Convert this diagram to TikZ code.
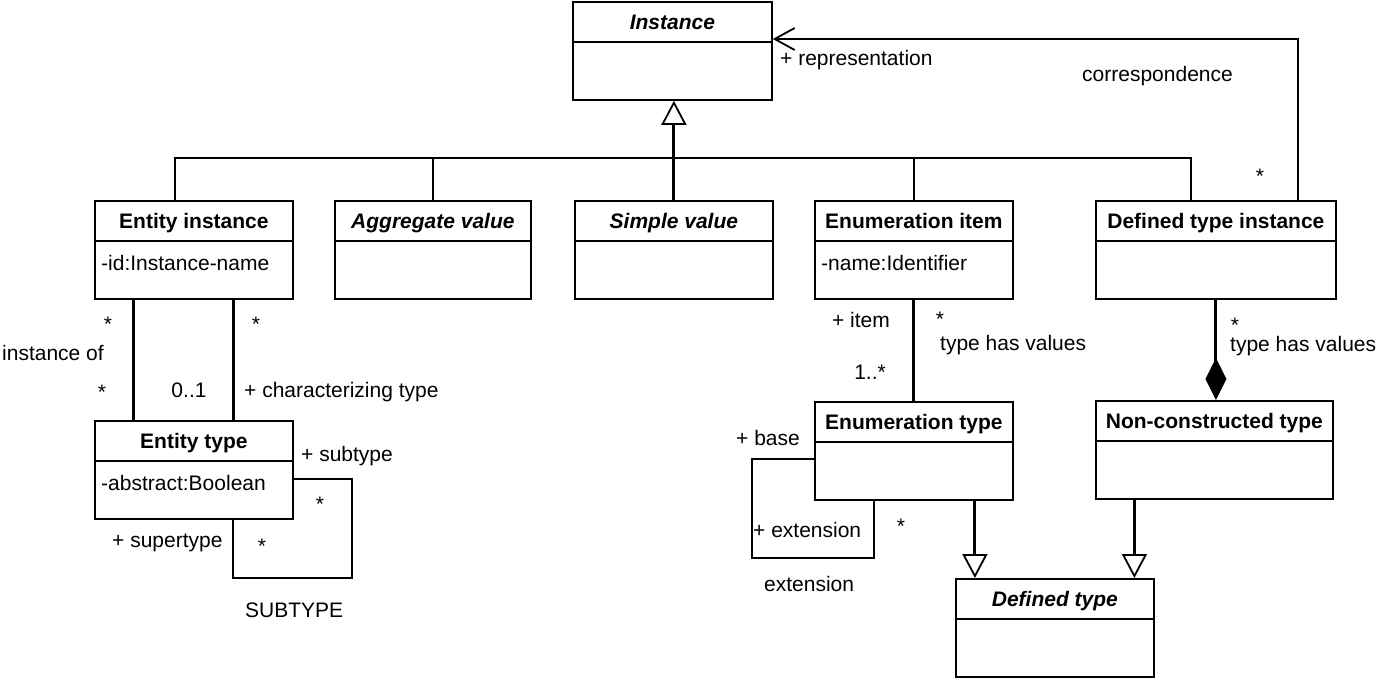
\documentclass[tikz,border=0pt]{standalone}
\usepackage{fontspec}
\setmainfont{Liberation Sans}
\usetikzlibrary{arrows.meta}
\tikzset{
 classbox/.style={draw, line width=1.8pt, inner sep=0pt, minimum height=98pt},
 divline/.style={line width=2.4pt},
 ttl/.style={font=\fontsize{21}{24}\selectfont\bfseries, inner sep=0pt, text height=15pt, text depth=0pt},
 ttli/.style={font=\fontsize{21}{24}\selectfont\bfseries\itshape, inner sep=0pt, text height=15pt, text depth=0pt},
 attrtxt/.style={font=\fontsize{21}{24}\selectfont, inner sep=0pt, anchor=west, text height=15pt, text depth=0pt},
 lbl/.style={font=\fontsize{21}{24}\selectfont, inner sep=0pt, text height=15pt, text depth=0pt},
 thinline/.style={line width=1.8pt},
 thickline/.style={line width=3pt},
 gentip/.style={-{Triangle[length=24pt,width=25pt,fill=white,line width=1.8pt]}},
 comptip/.style={-{Diamond[length=42pt,width=21pt]}},
 navtip/.style={-{Straight Barb[length=20pt,width=22pt,line width=1.8pt]}},
}
\newcommand{\umlclass}[7]{%
 \node[classbox, minimum width=#4pt, anchor=north west] (#1) at (#2,#3) {};
 \draw[divline] ([yshift=-41pt]#1.north west) -- ([yshift=-41pt]#1.north east);
 \node[#7] (#1-t) at ([yshift=-20.5pt]#1.north) {#5};
 \node[attrtxt] (#1-a) at ([xshift=7pt,yshift=-63pt]#1.north west) {#6};
}
\begin{document}
\begin{tikzpicture}[x=1pt,y=-1pt]
\useasboundingbox (0,0) rectangle (1380,681);
% classes
\umlclass{inst}{572}{1}{199}{Instance}{}{ttli}
\umlclass{ei}{94}{200}{198}{Entity instance}{-id:Instance-name}{ttl}
\umlclass{av}{334}{200}{196}{Aggregate value}{}{ttli}
\umlclass{sv}{574}{200}{198}{Simple value}{}{ttli}
\umlclass{enit}{814}{200}{198}{Enumeration item}{-name:Identifier}{ttl}
\umlclass{dti}{1095}{200}{240}{Defined type instance}{}{ttl}
\umlclass{et}{94}{420}{198}{Entity type}{-abstract:Boolean}{ttl}
\umlclass{ent}{814}{401}{198}{Enumeration type}{}{ttl}
\umlclass{nct}{1095}{400}{237}{Non-constructed type}{}{ttl}
\umlclass{dt}{955}{578}{198}{Defined type}{}{ttli}
% generalization to Instance
\coordinate (bus) at (672,158);
\draw[thinline] ([xshift=-19pt]ei.north) |- (bus);
\draw[thinline] (av.north) |- (bus);
\draw[thinline] (enit.north) |- (bus);
\draw[thinline] ([xshift=-25pt]dti.north) |- (bus);
\draw[thickline, gentip] (sv.north) -- (sv.north |- inst.south);
% correspondence
\draw[thinline, navtip] ([xshift=82pt]dti.north) |- ([yshift=-38pt]inst.north east);
% entity associations
\draw[thickline] ([xshift=-60pt]ei.south) -- ([xshift=-60pt]et.north);
\draw[thickline] ([xshift=40pt]ei.south) -- ([xshift=40pt]et.north);
\coordinate (etloop) at (352,578);
\draw[thinline] ([yshift=-59pt]et.north east) -| (etloop) -| ([xshift=39pt]et.south);
% enumeration
\draw[thickline] (enit.south) -- (ent.north);
\coordinate (enloop) at (752,558);
\draw[thinline] ([yshift=-58pt]ent.north west) -| (enloop) -| ([xshift=-40pt]ent.south);
\draw[thickline, gentip] ([xshift=61pt]ent.south) -- ([xshift=61pt]ent.south |- dt.north);
\draw[thickline, gentip] ([xshift=-80pt]nct.south) -- ([xshift=-80pt]nct.south |- dt.north);
\draw[thickline, comptip] (dti.south) -- (dti.south |- nct.north);
% labels
\node[lbl, anchor=west] (l1) at (780,58) {+ representation};
\node[lbl, anchor=west] (l2) at (1082,74) {correspondence};
\node[lbl] (l3) at (1260,176) {*};
\node[lbl] (l4) at (108,324) {*};
\node[lbl, anchor=west] (l5) at (2,353) {instance of};
\node[lbl] (l6) at (102,392) {*};
\node[lbl] (l7) at (189,390) {0..1};
\node[lbl] (l8) at (256,324) {*};
\node[lbl, anchor=west] (l9) at (244,390) {+ characterizing type};
\node[lbl, anchor=west] (l10) at (301,454) {+ subtype};
\node[lbl] (l11) at (320,504) {*};
\node[lbl, anchor=west] (l12) at (112,540) {+ supertype};
\node[lbl] (l13) at (262,546) {*};
\node[lbl, anchor=west] (l14) at (245,610) {SUBTYPE};
\node[lbl, anchor=east] (l15) at (890,320) {+ item};
\node[lbl] (l16) at (940,319) {*};
\node[lbl, anchor=west] (l17) at (940,343) {type has values};
\node[lbl, anchor=east] (l18) at (886,372) {1..*};
\node[lbl, anchor=west] (l19) at (736,438) {+ base};
\node[lbl, anchor=west] (l20) at (753,530) {+ extension};
\node[lbl] (l21) at (901,526) {*};
\node[lbl, anchor=west] (l22) at (764,584) {extension};
\node[lbl] (l23) at (1235,325) {*};
\node[lbl, anchor=west] (l24) at (1230,344) {type has values};
\end{tikzpicture}
\end{document}
